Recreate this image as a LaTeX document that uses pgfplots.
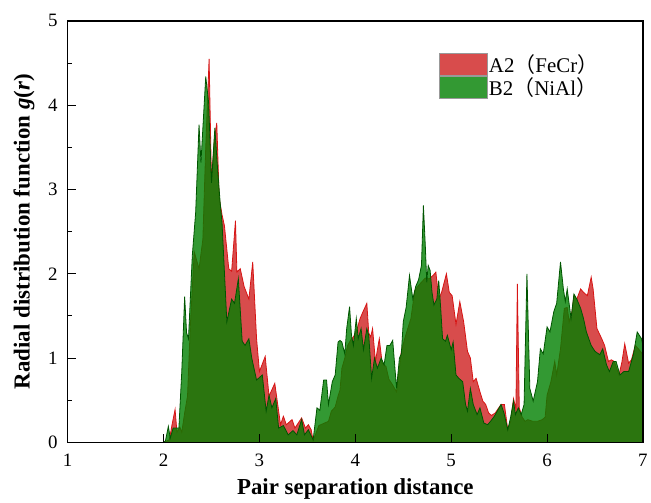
\documentclass[border=0pt]{standalone}
\usepackage{fontspec}
\setmainfont{Liberation Serif}
\newfontfamily\cjk{Noto Sans CJK SC}
\usepackage{pgfplots}
\pgfplotsset{compat=1.18}
\usepackage{pgfplotstable}
\definecolor{redfill}{RGB}{200,0,0}
\definecolor{redline}{RGB}{215,20,20}
\definecolor{greenfill}{RGB}{0,128,0}
\definecolor{greenline}{RGB}{0,85,0}

\pgfplotstableread{
x y
2.00 0
2.06 0.03
2.09 0.22
2.12 0.39
2.14 0.12
2.17 0.18
2.19 0.12
2.22 0.35
2.25 0.55
2.28 1.40
2.32 2.26
2.37 2.06
2.41 2.41
2.44 3.50
2.475 4.55
2.50 3.08
2.53 3.60
2.555 3.79
2.58 2.90
2.61 2.70
2.635 2.57
2.68 2.06
2.71 2.03
2.75 2.63
2.765 2.02
2.80 2.06
2.84 1.85
2.89 1.70
2.93 2.14
2.97 1.23
3.00 0.84
3.06 1.02
3.10 0.55
3.16 0.70
3.22 0.21
3.25 0.31
3.28 0.21
3.34 0.27
3.37 0.17
3.44 0.29
3.48 0.17
3.51 0.21
3.54 0.15
3.56 0.02
3.62 0.20
3.72 0.25
3.75 0.37
3.79 0.42
3.82 0.55
3.84 0.62
3.86 0.88
3.89 1.00
3.92 1.15
3.96 1.23
3.98 1.25
4.02 1.35
4.05 1.47
4.08 1.55
4.12 1.65
4.14 1.30
4.16 1.25
4.18 1.35
4.21 0.96
4.25 1.23
4.28 0.94
4.32 0.90
4.35 0.75
4.39 0.68
4.43 0.60
4.48 1.08
4.52 1.25
4.58 1.47
4.62 1.80
4.65 1.85
4.69 1.90
4.73 1.95
4.77 1.94
4.81 1.98
4.84 2.02
4.87 1.70
4.90 1.78
4.95 2.00
4.98 1.78
5.01 1.74
5.05 1.40
5.09 1.67
5.13 1.43
5.17 1.08
5.20 1.00
5.23 0.72
5.26 0.76
5.30 0.60
5.33 0.49
5.36 0.45
5.39 0.35
5.42 0.32
5.46 0.35
5.52 0.45
5.555 0.45
5.59 0.15
5.62 0.25
5.65 0.52
5.675 0.40
5.69 1.88
5.71 0.41
5.74 0.30
5.77 0.25
5.80 0.27
5.85 0.25
5.90 0.25
5.95 0.27
5.98 0.30
6.00 0.56
6.04 0.72
6.08 0.96
6.10 0.80
6.14 1.11
6.18 1.59
6.21 1.60
6.23 1.43
6.26 1.55
6.28 1.74
6.31 1.70
6.35 1.82
6.38 1.78
6.42 1.74
6.46 1.96
6.48 1.82
6.52 1.35
6.57 1.23
6.60 1.15
6.64 0.96
6.67 0.98
6.70 0.96
6.75 0.80
6.78 0.95
6.81 1.17
6.85 0.94
6.88 0.98
6.92 1.15
6.96 1.10
7.00 1.04
}\tableA

\pgfplotstableread{
x y
2.00 0
2.02 0.02
2.05 0.19
2.07 0.05
2.10 0.17
2.16 0.17
2.19 0.84
2.22 1.73
2.24 1.30
2.26 1.23
2.30 2.22
2.335 2.73
2.37 3.77
2.39 3.32
2.44 4.34
2.47 4.03
2.50 3.08
2.535 3.73
2.56 3.30
2.59 2.85
2.61 2.60
2.66 1.43
2.71 1.70
2.74 1.65
2.78 1.94
2.82 1.20
2.85 1.15
2.89 1.23
2.92 1.00
2.97 0.74
3.03 0.80
3.07 0.37
3.10 0.56
3.13 0.41
3.17 0.52
3.20 0.17
3.25 0.20
3.30 0.09
3.35 0.14
3.39 0.09
3.44 0.27
3.47 0.09
3.51 0.15
3.56 0.03
3.60 0.41
3.63 0.38
3.67 0.74
3.70 0.74
3.72 0.45
3.76 0.72
3.79 0.80
3.82 1.19
3.84 1.21
3.86 1.19
3.89 1.05
3.91 1.35
3.94 1.61
3.96 1.27
3.98 1.15
4.01 1.47
4.03 1.23
4.06 1.35
4.085 1.10
4.12 1.35
4.14 1.27
4.17 0.76
4.20 1.00
4.23 0.88
4.27 1.00
4.30 0.92
4.33 1.15
4.36 1.15
4.39 1.21
4.43 0.64
4.46 1.00
4.48 1.05
4.50 1.43
4.53 1.60
4.565 1.98
4.58 1.86
4.60 1.70
4.63 1.85
4.66 1.93
4.69 2.10
4.71 2.81
4.73 2.33
4.745 1.90
4.76 2.10
4.78 2.04
4.80 1.78
4.82 1.63
4.85 1.70
4.87 1.92
4.89 1.60
4.91 1.23
4.94 1.20
4.96 1.27
5.00 1.10
5.02 1.19
5.05 0.80
5.08 0.76
5.12 0.72
5.15 0.45
5.17 0.37
5.20 0.64
5.23 0.45
5.27 0.33
5.30 0.41
5.34 0.23
5.38 0.21
5.41 0.25
5.45 0.31
5.52 0.45
5.55 0.35
5.59 0.15
5.62 0.30
5.65 0.49
5.67 0.33
5.70 0.41
5.73 0.33
5.76 0.45
5.79 2.00
5.82 0.64
5.855 0.49
5.90 0.72
5.93 1.11
5.96 1.05
6.00 1.37
6.03 1.31
6.07 1.55
6.10 1.65
6.14 2.14
6.17 1.82
6.19 1.67
6.21 1.82
6.25 1.47
6.28 1.76
6.31 1.70
6.35 1.59
6.38 1.47
6.41 1.31
6.46 1.15
6.50 1.08
6.55 1.04
6.58 1.11
6.62 0.92
6.65 0.84
6.69 0.96
6.72 0.96
6.76 0.80
6.80 0.84
6.85 0.84
6.90 1.04
6.94 1.31
6.985 1.23
7.00 1.15
}\tableB

\begin{document}
\begin{tikzpicture}
\begin{axis}[
  scale only axis, width=578pt, height=423.5pt,
  xmin=1, xmax=7, ymin=0, ymax=5,
  xtick={1,2,3,4,5,6,7}, ytick={0,1,2,3,4,5},
  minor y tick num=1,
  tick align=inside, xtick pos=bottom, ytick pos=left,
  major tick length=8pt, minor tick length=4pt,
  tick style={line width=1pt, black},
  axis line style={line width=1.3pt},
  font=\fontsize{19}{23}\selectfont,
  /pgf/number format/assume math mode=true,
  xticklabel style={yshift=-8pt},
  yticklabel style={xshift=-6.5pt},
  xlabel={Pair separation distance},
  ylabel={Radial distribution function \textit{g}(\textit{r})},
  xlabel style={font=\fontsize{23}{27}\selectfont\bfseries, at={(axis description cs:0.5,0)}, anchor=center, yshift=-47pt},
  ylabel style={font=\fontsize{23}{27}\selectfont\bfseries, at={(axis description cs:-0.0761,0.5)}, anchor=center},
  legend style={at={(axis description cs:0.6453,0.9244)}, anchor=north west, draw=none, fill=none,
    font=\fontsize{21}{25}\selectfont, inner sep=0pt, row sep=1pt, nodes={inner sep=1.5pt}},
  legend cell align=left,
  axis on top,
]
\addplot[fill=redfill, fill opacity=0.7, draw=redline, line width=0.8pt,
  legend image code/.code={\draw[draw=gray!80, line width=0.6pt, fill=redfill, fill opacity=0.7] (0pt,-11pt) rectangle (48pt,11pt);}]
  table[x=x,y=y] {\tableA} \closedcycle;
\addlegendentry{A2{\cjk（}FeCr{\cjk）}}
\addplot[fill=greenfill, fill opacity=0.8, draw=greenline, line width=0.8pt,
  legend image code/.code={\draw[draw=gray!80, line width=0.6pt, fill=greenfill, fill opacity=0.8] (0pt,-11pt) rectangle (48pt,11pt);}]
  table[x=x,y=y] {\tableB} \closedcycle;
\addlegendentry{B2{\cjk（}NiAl{\cjk）}}
\end{axis}
\path ([xshift=-68pt,yshift=-60.5pt]current axis.south west) rectangle ([xshift=5pt,yshift=21pt]current axis.north east);
\end{tikzpicture}
\end{document}
